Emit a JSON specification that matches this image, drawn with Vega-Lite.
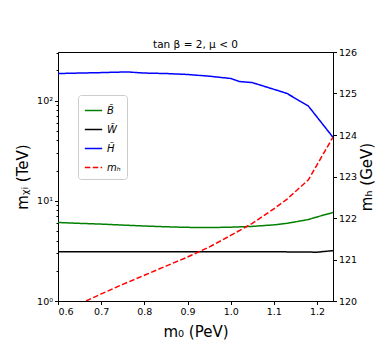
{
  "$schema": "https://vega.github.io/schema/vega-lite/v6.json",
  "autosize": "none",
  "width": 275,
  "height": 249,
  "padding": {"left": 58, "top": 52, "right": 57, "bottom": 54},
  "title": {"text": "tan β = 2, μ < 0", "fontSize": 10.5, "fontWeight": "normal", "font": "DejaVu Sans", "offset": -3, "color": "black"},
  "config": {
    "view": {"stroke": "black", "strokeWidth": 1},
    "font": "DejaVu Sans",
    "axis": {"domainColor": "black", "tickColor": "black", "labelColor": "black", "titleColor": "black", "grid": false, "labelFontSize": 9.5, "titleFontSize": 15, "titleFontWeight": "normal", "tickSize": 3.5, "labelFont": "DejaVu Sans", "titleFont": "DejaVu Sans"}
  },
  "data": {"values": [
    {"series": "B̃", "m0": 0.6, "v": 6.07},
    {"series": "B̃", "m0": 0.65, "v": 5.95},
    {"series": "B̃", "m0": 0.7, "v": 5.85},
    {"series": "B̃", "m0": 0.75, "v": 5.72},
    {"series": "B̃", "m0": 0.8, "v": 5.6},
    {"series": "B̃", "m0": 0.85, "v": 5.5},
    {"series": "B̃", "m0": 0.9, "v": 5.43},
    {"series": "B̃", "m0": 0.95, "v": 5.4},
    {"series": "B̃", "m0": 1.0, "v": 5.45},
    {"series": "B̃", "m0": 1.05, "v": 5.55},
    {"series": "B̃", "m0": 1.1, "v": 5.75},
    {"series": "B̃", "m0": 1.13, "v": 5.95},
    {"series": "B̃", "m0": 1.18, "v": 6.5},
    {"series": "B̃", "m0": 1.2, "v": 6.9},
    {"series": "B̃", "m0": 1.237, "v": 7.64},
    {"series": "W̃", "m0": 0.6, "v": 3.1},
    {"series": "W̃", "m0": 0.7, "v": 3.1},
    {"series": "W̃", "m0": 0.8, "v": 3.1},
    {"series": "W̃", "m0": 0.9, "v": 3.1},
    {"series": "W̃", "m0": 1.0, "v": 3.1},
    {"series": "W̃", "m0": 1.1, "v": 3.1},
    {"series": "W̃", "m0": 1.2, "v": 3.07},
    {"series": "W̃", "m0": 1.237, "v": 3.18},
    {"series": "H̃", "m0": 0.6, "v": 186},
    {"series": "H̃", "m0": 0.65, "v": 188},
    {"series": "H̃", "m0": 0.7, "v": 190},
    {"series": "H̃", "m0": 0.76, "v": 193},
    {"series": "H̃", "m0": 0.8, "v": 188},
    {"series": "H̃", "m0": 0.85, "v": 186},
    {"series": "H̃", "m0": 0.9, "v": 182},
    {"series": "H̃", "m0": 0.95, "v": 175},
    {"series": "H̃", "m0": 1.0, "v": 166},
    {"series": "H̃", "m0": 1.02, "v": 155},
    {"series": "H̃", "m0": 1.05, "v": 151},
    {"series": "H̃", "m0": 1.13, "v": 118},
    {"series": "H̃", "m0": 1.18, "v": 88},
    {"series": "H̃", "m0": 1.237, "v": 43},
    {"series": "mₕ", "m0": 0.665, "v": 120.0},
    {"series": "mₕ", "m0": 0.7, "v": 120.17},
    {"series": "mₕ", "m0": 0.75, "v": 120.4},
    {"series": "mₕ", "m0": 0.8, "v": 120.62},
    {"series": "mₕ", "m0": 0.85, "v": 120.84},
    {"series": "mₕ", "m0": 0.9, "v": 121.06},
    {"series": "mₕ", "m0": 0.95, "v": 121.3},
    {"series": "mₕ", "m0": 1.0, "v": 121.58},
    {"series": "mₕ", "m0": 1.05, "v": 121.87},
    {"series": "mₕ", "m0": 1.1, "v": 122.22},
    {"series": "mₕ", "m0": 1.13, "v": 122.45},
    {"series": "mₕ", "m0": 1.18, "v": 122.92},
    {"series": "mₕ", "m0": 1.237, "v": 123.95}
  ]},
  "encoding": {
    "x": {"field": "m0", "type": "quantitative",
      "scale": {"domain": [0.6, 1.237], "nice": false, "zero": false},
      "axis": {"title": "m₀  (PeV)", "values": [0.6, 0.7, 0.8, 0.9, 1.0, 1.1, 1.2], "format": ".1f", "titlePadding": 8, "labelPadding": 2}},
    "color": {"field": "series", "type": "nominal",
      "scale": {"domain": ["B̃", "W̃", "H̃", "mₕ"], "range": ["#008000", "#000000", "#0000ff", "#ff0000"]},
      "legend": {"title": null, "orient": "none", "legendX": 20, "legendY": 43, "symbolType": "stroke", "symbolSize": 300, "symbolStrokeWidth": 1.5, "labelFontSize": 10, "labelFontStyle": "italic", "strokeColor": "#cccccc", "padding": 6, "cornerRadius": 3, "fillColor": "white", "rowPadding": 4}},
    "strokeDash": {"field": "series", "type": "nominal",
      "scale": {"domain": ["B̃", "W̃", "H̃", "mₕ"], "range": [[1, 0], [1, 0], [1, 0], [5.5, 2.4]]},
      "legend": {"title": null, "orient": "none", "legendX": 20, "legendY": 43, "symbolType": "stroke", "symbolSize": 300, "symbolStrokeWidth": 1.5, "labelFontSize": 10, "labelFontStyle": "italic", "strokeColor": "#cccccc", "padding": 6, "cornerRadius": 3, "fillColor": "white", "rowPadding": 4}}
  },
  "layer": [
    {
      "transform": [{"filter": "datum.series != 'mₕ'"}],
      "mark": {"type": "line", "strokeWidth": 1.5, "clip": true},
      "encoding": {
        "y": {"field": "v", "type": "quantitative",
          "scale": {"type": "log", "domain": [1, 305], "nice": false},
          "axis": {"title": "mᵪᵢ  (TeV)", "orient": "left",
            "values": [1, 2, 3, 4, 5, 6, 7, 8, 9, 10, 20, 30, 40, 50, 60, 70, 80, 90, 100, 200, 300],
            "labelExpr": "datum.value == 1 ? '10⁰' : datum.value == 10 ? '10¹' : datum.value == 100 ? '10²' : ''",
            "tickSize": {"condition": {"test": "datum.value == 1 || datum.value == 10 || datum.value == 100", "value": 3.5}, "value": 2},
            "titlePadding": 6, "labelPadding": 2}}
      }
    },
    {
      "transform": [{"filter": "datum.series == 'mₕ'"}],
      "mark": {"type": "line", "strokeWidth": 1.5, "clip": true},
      "encoding": {
        "y": {"field": "v", "type": "quantitative",
          "scale": {"domain": [120, 126], "nice": false, "zero": false},
          "axis": {"title": "mₕ  (GeV)", "orient": "right", "titleAngle": 270, "titleBaseline": "top",
            "values": [120, 121, 122, 123, 124, 125, 126], "titlePadding": 3, "labelPadding": 2}}
      }
    }
  ],
  "resolve": {"scale": {"y": "independent"}}
}
